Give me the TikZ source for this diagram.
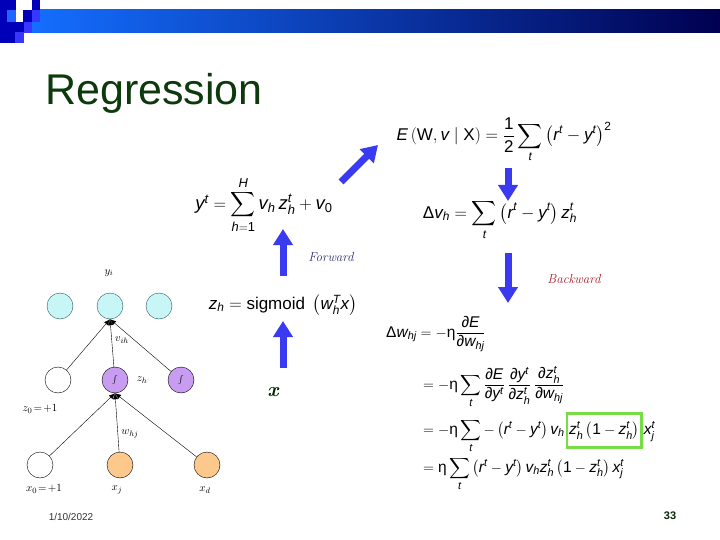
\documentclass[tikz,border=0pt]{standalone}
\usepackage{amsmath}
\usepackage{fontspec}
\newfontfamily\ar{Liberation Sans}
\usetikzlibrary{arrows.meta}
\newcommand{\I}[1]{\text{\ar\itshape #1}}
\newcommand{\R}[1]{\text{\ar #1}}
\definecolor{bigblue}{RGB}{58,58,240}
\definecolor{titlegreen}{RGB}{12,58,12}
\definecolor{sqdark}{RGB}{0,0,185}
\definecolor{sqmid}{RGB}{55,55,255}
\definecolor{sqlight}{RGB}{30,100,255}
\definecolor{barleft}{RGB}{20,110,255}
\definecolor{barmid}{RGB}{0,70,190}
\definecolor{barright}{RGB}{0,0,80}
\definecolor{cyanfill}{RGB}{200,245,245}
\definecolor{cyanline}{RGB}{40,90,90}
\definecolor{purplefill}{RGB}{200,156,240}
\definecolor{orangefill}{RGB}{252,200,140}
\definecolor{fwdcol}{RGB}{50,50,120}
\definecolor{bwdcol}{RGB}{170,30,45}
\definecolor{boxgreen}{RGB}{120,220,70}
\tikzset{
  bigarrow/.style={draw=bigblue, line width=7pt, -{Triangle[width=19pt,length=16pt]}},
  neuron/.style={circle, draw, thin, minimum size=26pt, inner sep=0pt},
  netedge/.style={thin, -{Latex[length=6pt,width=5pt]}},
  netlab/.style={font=\fontsize{11}{12}\selectfont, inner sep=1pt},
  eq/.style={font=\fontsize{17}{20}\selectfont, inner sep=0pt},
  eqs/.style={font=\fontsize{15.5}{18}\selectfont, inner sep=0pt},
}
\begin{document}
\begin{tikzpicture}[x=1pt,y=-1pt]
\useasboundingbox (0,0) rectangle (720,540);
\fill[white] (0,0) rectangle (720,540);
% header bar
\shade[left color=barleft, middle color=barmid, right color=barright] (32,10) rectangle (720,33);
\fill[sqdark] (0,0) rectangle (16,43);
\fill[sqlight] (7,10) rectangle (16,22);
\fill[sqdark] (32,0) rectangle (40,10);
\fill[sqdark] (23,10) rectangle (32,22);
\fill[sqmid] (32,10) rectangle (40,22);
\fill[sqdark] (16,22) rectangle (24,32);
\fill[sqmid] (24,22) rectangle (32,33);
\fill[sqmid] (15,32) rectangle (24,43);
% title
\node[anchor=base west, inner sep=0pt, text=titlegreen, font=\fontsize{43}{50}\selectfont\ar] (title) at (45,105) {Regression};
% formulas
\node[eq] (err) at (504,140) {$\I{E}\left(\R{W},\I{v}\mid\R{X}\right)=\dfrac{\R{1}}{\R{2}}\displaystyle\sum_{\I{t}}\left(\I{r}^{\I{t}}-\I{y}^{\I{t}}\right)^{\R{2}}$};
\node[eq, font=\fontsize{18.5}{21}\selectfont] (yeq) at (264,205) {$\I{y}^{\I{t}}=\displaystyle\sum_{\I{h}=\R{1}}^{\I{H}}\I{v}_{\I{h}}\,\I{z}_{\I{h}}^{\I{t}}+\I{v}_{\R{0}}$};
\node[eq] (zeq) at (283,305) {$\I{z}_{\I{h}}=\R{sigmoid}\;\left(\I{w}_{\I{h}}^{\I{T}}\I{x}\right)$};
\node[eq] (dv) at (500,220) {$\R{Δ}\I{v}_{\I{h}}=\displaystyle\sum_{\I{t}}\left(\I{r}^{\I{t}}-\I{y}^{\I{t}}\right)\I{z}_{\I{h}}^{\I{t}}$};
\node[eqs, anchor=base west] (dw1) at (386,337) {$\R{Δ}\I{w}_{\I{hj}}=-\R{η}\dfrac{\R{∂}\I{E}}{\R{∂}\I{w}_{\I{hj}}}$};
\node[eqs, anchor=base west] (dw2) at (423,389) {$=-\R{η}\displaystyle\sum_{\I{t}}\dfrac{\R{∂}\I{E}}{\R{∂}\I{y}^{\I{t}}}\,\dfrac{\R{∂}\I{y}^{\I{t}}}{\R{∂}\I{z}_{\I{h}}^{\I{t}}}\,\dfrac{\R{∂}\I{z}_{\I{h}}^{\I{t}}}{\R{∂}\I{w}_{\I{hj}}}$};
\node[eqs, anchor=base west] (dw3) at (423,434) {$=-\R{η}\displaystyle\sum_{\I{t}}-\left(\I{r}^{\I{t}}-\I{y}^{\I{t}}\right)\I{v}_{\I{h}}$};
\node[eqs, anchor=base west, draw=boxgreen, line width=2.5pt, inner xsep=2pt, minimum height=34pt] (dw3box) at ([xshift=1pt]dw3.base east) {$\I{z}_{\I{h}}^{\I{t}}\left(\R{1}-\I{z}_{\I{h}}^{\I{t}}\right)$};
\node[eqs, anchor=base west] (dw3c) at ([xshift=1pt]dw3box.base east) {$\I{x}_{\I{j}}^{\I{t}}$};
\node[eqs, anchor=base west] (dw4) at (423,472) {$=\R{η}\displaystyle\sum_{\I{t}}\left(\I{r}^{\I{t}}-\I{y}^{\I{t}}\right)\I{v}_{\I{h}}\I{z}_{\I{h}}^{\I{t}}\left(\R{1}-\I{z}_{\I{h}}^{\I{t}}\right)\I{x}_{\I{j}}^{\I{t}}$};
% big arrows
\coordinate (a1s) at (283,276); \coordinate (a1e) at (283,229);
\coordinate (a2s) at (283,368); \coordinate (a2e) at (283,321);
\coordinate (a3s) at (341,182); \coordinate (a3e) at (378,145);
\coordinate (a4s) at (508,168); \coordinate (a4e) at (508,201);
\coordinate (a5s) at (508,253); \coordinate (a5e) at (508,303);
\draw[bigarrow] (a1s) -- (a1e);
\draw[bigarrow] (a2s) -- (a2e);
\draw[bigarrow] (a3s) -- (a3e);
\draw[bigarrow] (a4s) -- (a4e);
\draw[bigarrow] (a5s) -- (a5e);
\node[text=fwdcol, font=\fontsize{13}{15}\selectfont\itshape] (fwd) at (331,257) {Forward};
\node[text=bwdcol, font=\fontsize{13}{15}\selectfont\itshape] (bwd) at (574,279) {Backward};
\node[font=\fontsize{20}{22}\selectfont\bfseries\itshape, text=black!85!green] (xlab) at (273,392) {x};
% network
\node[neuron, fill=cyanfill, draw=cyanline] (y1) at (60,306) {};
\node[neuron, fill=cyanfill, draw=cyanline] (y2) at (110,306) {};
\node[neuron, fill=cyanfill, draw=cyanline] (y3) at (159,306) {};
\node[neuron, fill=white] (h0) at (58,380) {};
\node[neuron, fill=purplefill] (h1) at (115,380) {\footnotesize$\int$};
\node[neuron, fill=purplefill] (h2) at (181,380) {\footnotesize$\int$};
\node[neuron, fill=white] (x0) at (40,465) {};
\node[neuron, fill=orangefill] (x1) at (120,465) {};
\node[neuron, fill=orangefill] (x2) at (207,465) {};
\draw[netedge] (h0) -- (y2.south);
\draw[netedge] (h1) -- (y2.south);
\draw[netedge] (h2) -- (y2.south);
\draw[netedge] (x0) -- (h1.south);
\draw[netedge] (x1) -- (h1.south);
\draw[netedge] (x2) -- (h1.south);
\node[netlab] (ly) at (109,273) {$y_i$};
\node[netlab] (lv) at (122,340) {$v_{ih}$};
\node[netlab] (lz) at (142,380) {$z_h$};
\node[netlab] (lz0) at (40,409) {$z_0\!=\!+1$};
\node[netlab] (lw) at (130,434) {$w_{hj}$};
\node[netlab] (lx0) at (44,489) {$x_0\!=\!+1$};
\node[netlab] (lxj) at (117,490) {$x_j$};
\node[netlab] (lxd) at (205,490) {$x_d$};
% footer
\node[font=\fontsize{10}{12}\selectfont\ar, text=black!80] (date) at (71,517) {1/10/2022};
\node[font=\fontsize{11}{12}\selectfont\ar\bfseries, text=titlegreen!70!black] (page) at (670,516) {33};
\end{tikzpicture}
\end{document}
